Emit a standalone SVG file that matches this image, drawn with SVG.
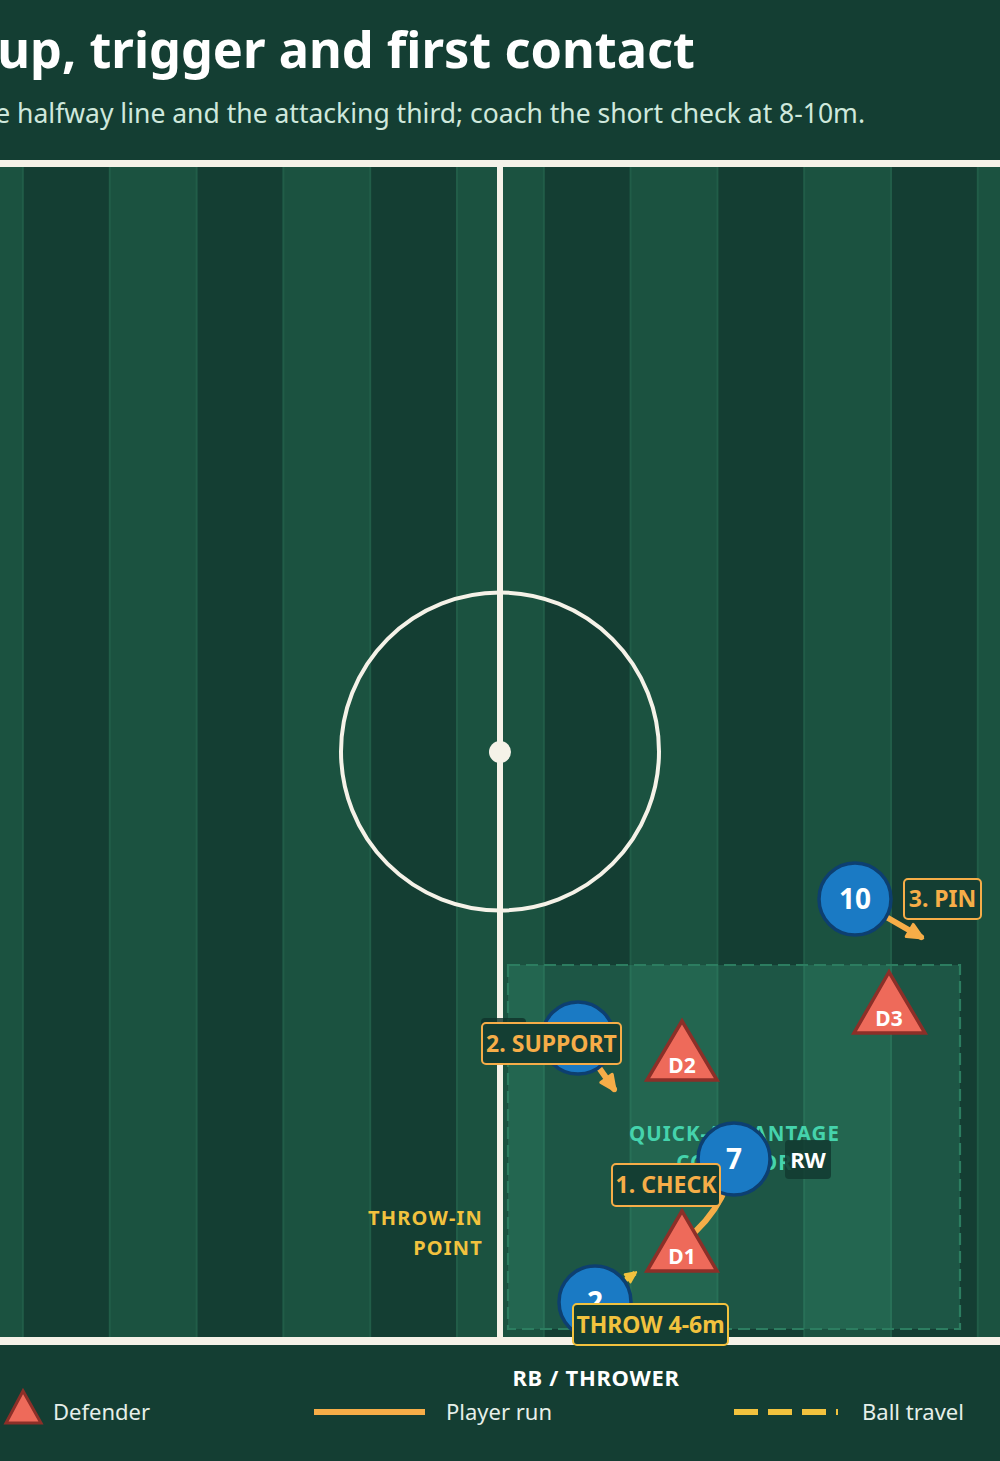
<svg xmlns="http://www.w3.org/2000/svg" width="1000" height="1461" viewBox="0 0 1000 1461">
<style>
.t{font-family:"Noto Sans","Open Sans","DejaVu Sans",sans-serif}
.b{font-weight:700}
.lite{fill:#1b5240;stroke:#215d48;stroke-width:2}
.pl{fill:#f5f2e8}
.player circle{fill:#1a7ac4;stroke:#0d3f70;stroke-width:3.5}
.num{font-family:"Noto Sans","Open Sans",sans-serif;font-weight:700;font-size:28px;fill:#ffffff;text-anchor:middle}
.def path{fill:#ee6a5a;stroke:#8c2f28;stroke-width:3.5;stroke-linejoin:miter}
.dl{font-family:"Noto Sans","Open Sans",sans-serif;font-weight:700;font-size:21px;fill:#ffffff;text-anchor:middle}
.lab rect{fill:#143e33;stroke:#f6ad48;stroke-width:2}
.lab text{font-family:"Noto Sans","Open Sans",sans-serif;font-weight:700;font-size:23px;fill:#f6ad48;text-anchor:middle}
.run{fill:none;stroke:#f6ad48;stroke-width:6;stroke-linecap:round}
.ball{fill:none;stroke:#f2c23e;stroke-width:5;stroke-dasharray:12 7}
.leg{font-family:"Noto Sans","Open Sans",sans-serif;font-size:22px;fill:#e6efe9}
</style>
<defs>
<marker id="ah" viewBox="0 0 10 10" refX="8" refY="5" markerWidth="20" markerHeight="20" markerUnits="userSpaceOnUse" orient="auto">
<path d="M1.5,1.5 L9,5 L1.5,8.5 z" fill="#f6ad48" stroke="#f6ad48" stroke-width="1.5" stroke-linejoin="round"/>
</marker>
<marker id="ahy" viewBox="0 0 10 10" refX="8" refY="5" markerWidth="14" markerHeight="14" markerUnits="userSpaceOnUse" orient="auto">
<path d="M1.5,1.5 L9,5 L1.5,8.5 z" fill="#f2c23e" stroke="#f2c23e" stroke-width="1.5" stroke-linejoin="round"/>
</marker>
</defs>
<rect x="0" y="0" width="1000" height="1461" fill="#143e33"/>
<g id="header">
<text class="t b" x="695" y="68" font-size="50.5" fill="#ffffff" text-anchor="end">up, trigger and first contact</text>
<text class="t" x="865" y="123" font-size="26.5" fill="#cfe8dc" text-anchor="end">e halfway line and the attacking third; coach the short check at 8-10m.</text>
</g>
<g id="pitch">
<rect x="0" y="163" width="1000" height="1178" fill="#143e33"/>
<rect class="lite" x="-64" y="164" width="86.8" height="1176"/>
<rect class="lite" x="109.8" y="164" width="86.8" height="1176"/>
<rect class="lite" x="283.4" y="164" width="86.8" height="1176"/>
<rect class="lite" x="457" y="164" width="86.8" height="1176"/>
<rect class="lite" x="630.6" y="164" width="86.8" height="1176"/>
<rect class="lite" x="804.2" y="164" width="86.8" height="1176"/>
<rect class="lite" x="977.8" y="164" width="86.8" height="1176"/>
<rect x="-5" y="160" width="1010" height="7" class="pl"/>
<rect x="-5" y="1337" width="1010" height="8" class="pl"/>
<rect x="497" y="163" width="6" height="1178" class="pl"/>
<circle cx="500" cy="751.5" r="159" fill="none" stroke="#f5f2e8" stroke-width="4"/>
<circle cx="500" cy="752" r="11" class="pl"/>
</g>
<g id="zone">
<rect x="508" y="965" width="452" height="364" fill="#4fd6a5" fill-opacity="0.16" stroke="#2c7d60" stroke-width="2.2" stroke-dasharray="12 6"/>
<text class="t b" x="734.5" y="1141" font-size="20.5" fill="#45d3ac" text-anchor="middle" letter-spacing="1">QUICK-ADVANTAGE</text>
<text class="t b" x="734.5" y="1170" font-size="20.5" fill="#45d3ac" text-anchor="middle" letter-spacing="1">CORRIDOR</text>
</g>
<g id="throw-in-point">
<text class="t b" x="483" y="1225" font-size="20" fill="#f2c23e" text-anchor="end" letter-spacing="1.2">THROW-IN</text>
<text class="t b" x="483" y="1255" font-size="20" fill="#f2c23e" text-anchor="end" letter-spacing="1.2">POINT</text>
</g>
<g id="connectors">
<line class="run" x1="855" y1="899" x2="921" y2="937" marker-end="url(#ah)"/>
<line class="run" x1="578" y1="1038" x2="614" y2="1089" marker-end="url(#ah)"/>
<path class="run" d="M734,1159 Q725,1215 672,1250" marker-end="url(#ah)"/>
<line class="ball" x1="595" y1="1302" x2="635" y2="1273" marker-end="url(#ahy)"/>
</g>
<g id="player-10" class="player">
<circle cx="855" cy="899" r="36"/>
<text class="num" x="855" y="909">10</text>
</g>
<g id="player-support" class="player">
<rect x="481" y="1018" width="45" height="39" rx="4" fill="#0f3229" fill-opacity="0.8"/>
<circle cx="578" cy="1038" r="36"/>
</g>
<g id="player-7" class="player">
<circle cx="734" cy="1159" r="36"/>
<text class="num" x="734" y="1169">7</text>
<rect x="785" y="1140" width="46" height="39" rx="4" fill="#123a30" fill-opacity="0.85"/>
<text class="t b" x="808" y="1168" font-size="22" fill="#ffffff" text-anchor="middle">RW</text>
</g>
<g id="player-2" class="player">
<circle cx="595" cy="1302" r="36"/>
<text class="num" x="595" y="1312">2</text>
<text class="t b" x="596" y="1386" font-size="22" fill="#ffffff" text-anchor="middle" letter-spacing="0.7">RB / THROWER</text>
</g>
<g id="d3" class="def">
<path d="M889,972 L854,1033 L925,1033 Z"/>
<text class="dl" x="889" y="1026">D3</text>
</g>
<g id="d2" class="def">
<path d="M682,1021 L647,1080 L717,1080 Z"/>
<text class="dl" x="682" y="1073">D2</text>
</g>
<g id="d1" class="def">
<path d="M682,1211 L647,1271 L717,1271 Z"/>
<text class="dl" x="682" y="1264">D1</text>
</g>
<g id="label-pin" class="lab">
<rect x="904" y="879" width="77" height="40" rx="4"/>
<text x="942.5" y="907">3. PIN</text>
</g>
<g id="label-support" class="lab">
<rect x="482" y="1023" width="139" height="41" rx="4"/>
<text x="551.5" y="1052">2. SUPPORT</text>
</g>
<g id="label-check" class="lab">
<rect x="612" y="1164" width="108" height="42" rx="4"/>
<text x="666" y="1193">1. CHECK</text>
</g>
<g id="label-throw" class="lab">
<rect x="573" y="1304" width="155" height="41" rx="4" style="stroke:#f2c23e"/>
<text x="650.5" y="1333" style="fill:#f2c23e">THROW 4-6m</text>
</g>
<g id="legend">
<path d="M23,1391 L6,1423 L41,1423 Z" fill="#ee6a5a" stroke="#8c2f28" stroke-width="3"/>
<text class="leg" x="53" y="1420">Defender</text>
<line x1="314" y1="1412" x2="425" y2="1412" stroke="#f6ad48" stroke-width="6"/>
<text class="leg" x="446" y="1420">Player run</text>
<line x1="734" y1="1412" x2="838" y2="1412" stroke="#f2c23e" stroke-width="6" stroke-dasharray="24 10"/>
<text class="leg" x="862" y="1420">Ball travel</text>
</g>
</svg>
